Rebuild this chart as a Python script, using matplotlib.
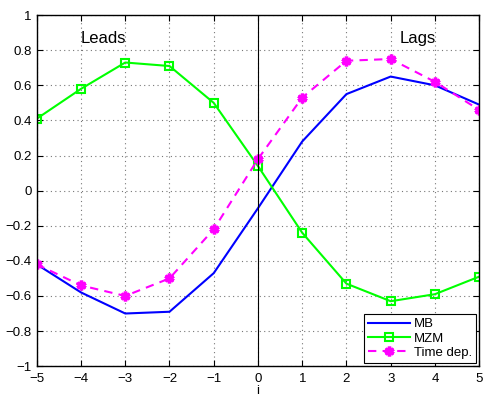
import numpy as np
import matplotlib
matplotlib.use('Agg')
import matplotlib.pyplot as plt

# lag index
lags = [-5, -4, -3, -2, -1, 0, 1, 2, 3, 4, 5]
mb = [-0.42, -0.58, -0.70, -0.69, -0.47, -0.10, 0.28, 0.55, 0.65, 0.60, 0.49]
mzm = [0.41, 0.58, 0.73, 0.71, 0.50, 0.14, -0.24, -0.53, -0.63, -0.59, -0.49]
time_dep = [-0.42, -0.54, -0.60, -0.50, -0.22, 0.18, 0.53, 0.74, 0.75, 0.62, 0.46]

plt.rcParams['font.family'] = ['Liberation Sans', 'DejaVu Sans']
plt.rcParams['font.size'] = 9.5

fig = plt.figure(figsize=(4.84, 3.98), dpi=100)
ax = fig.add_axes([0.076, 0.08, 0.914, 0.882])

ax.plot(lags, mb, color='#0000ff', lw=1.5, label='MB')
ax.plot(lags, mzm, color='#00ff00', lw=1.5, marker='s', markersize=6,
        markerfacecolor='none', markeredgewidth=1.5, label='MZM')
ax.plot(lags, time_dep, color='#ff00ff', lw=1.5, ls='--', dashes=(4, 3),
        marker=(6, 2, 0), markersize=7, markeredgewidth=2.5, label='Time dep.')
ax.axvline(0, color='black', lw=0.8)

ax.text(-4.0, 0.84, 'Leads', fontsize=12)
ax.text(3.2, 0.84, 'Lags', fontsize=12)

ax.set_xlim(-5, 5)
ax.set_ylim(-1, 1)
ax.set_xticks(np.arange(-5, 6, 1))
ax.set_yticks(np.arange(-1, 1.01, 0.2))
ax.set_xticklabels([str(v).replace('-', '\u2212') for v in range(-5, 6)])
ax.set_yticklabels(['\u22121', '\u22120.8', '\u22120.6', '\u22120.4', '\u22120.2', '0',
                    '0.2', '0.4', '0.6', '0.8', '1'])
ax.tick_params(direction='in', top=True, right=True, length=4, width=0.8)
ax.tick_params(axis='x', pad=5)
ax.grid(True, ls=(0, (1, 3)), color='#777777', lw=0.8)
for s in ax.spines.values():
    s.set_linewidth(1.0)
ax.set_xlabel('i', labelpad=0)

leg = ax.legend(loc='lower right', fancybox=False, edgecolor='black',
                borderaxespad=0.25, handlelength=3.2, handletextpad=0.3,
                labelspacing=0.15, borderpad=0.3, framealpha=1)
leg.get_frame().set_linewidth(0.8)

fig.savefig('out.png', dpi=100)
